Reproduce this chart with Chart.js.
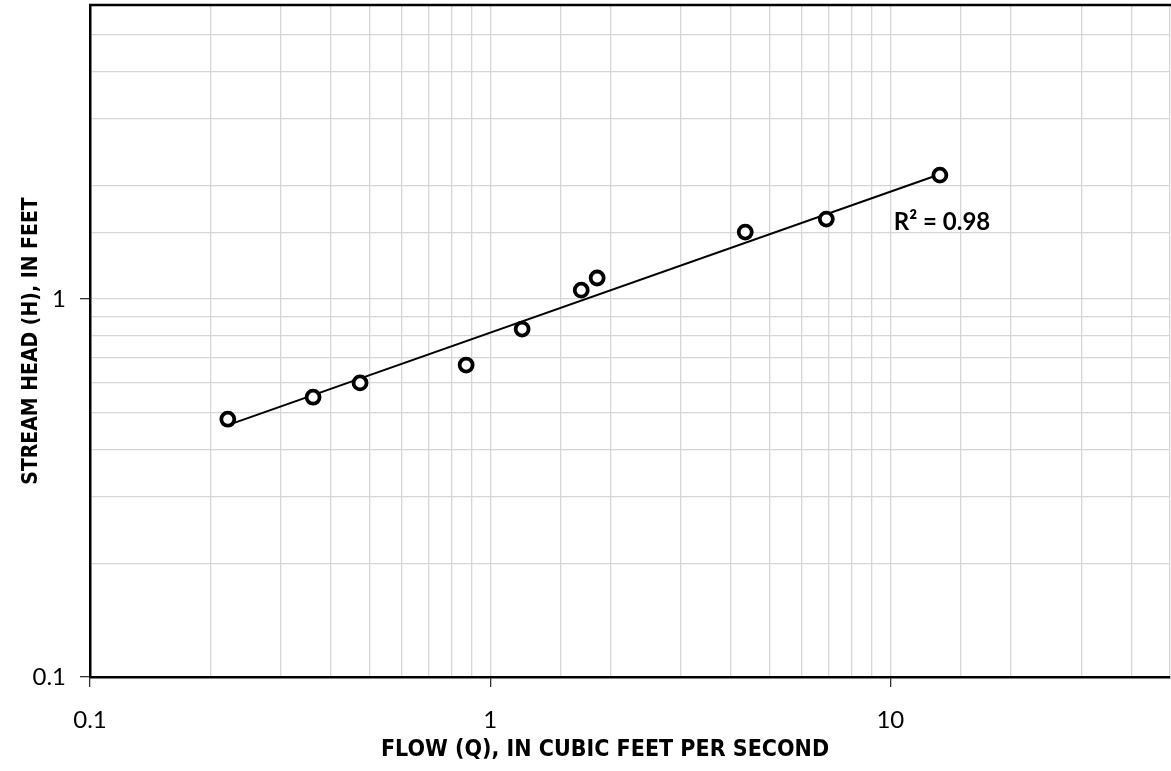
<!DOCTYPE html>
<html>
<head>
<meta charset="utf-8">
<style>
  html, body { margin: 0; padding: 0; background: #fff; }
  #wrap { width: 1171px; height: 771px; }
</style>
<script src="https://cdn.jsdelivr.net/npm/chart.js@4/dist/chart.umd.min.js"></script>
</head>
<body>
<div id="wrap"><canvas id="chart" width="1171" height="771"></canvas></div>
<script>
// measured flows (cfs) and stream head (ft)
const flow = [0.221, 0.361, 0.473, 0.871, 1.202, 1.689, 1.851, 4.34, 6.92, 13.3];
const head = [0.481, 0.550, 0.600, 0.669, 0.833, 1.056, 1.137, 1.504, 1.628, 2.128];

// power trendline ends
const trendFlow = [0.221, 13.3];
const trendHead = [0.464, 2.14];

const xTitle = "FLOW (Q), IN CUBIC FEET PER SECOND";
const yTitle = "STREAM HEAD (H), IN FEET";
const r2Label = "R² = 0.98";

const narrow = "'Liberation Sans Narrow', 'DejaVu Sans Condensed', sans-serif";
const tickFont = "Lato, 'Open Sans', sans-serif";

const isPow10 = v => Math.abs(Math.log10(v) - Math.round(Math.log10(v))) < 1e-9;

// drop the label padding Chart.js reserves at the axis ends
const fixPad = s => { s.paddingTop = 0; s.paddingBottom = 0; s.paddingLeft = 0; s.paddingRight = 0; };

const extras = {
    id: "extras",
    afterDraw(chart) {
        const { ctx, chartArea, scales } = chart;
        ctx.save();
        // top frame line
        ctx.strokeStyle = "#000";
        ctx.lineWidth = 2.5;
        ctx.beginPath();
        ctx.moveTo(chartArea.left - 1, chartArea.top);
        ctx.lineTo(chartArea.right + 2, chartArea.top);
        ctx.stroke();

        // x axis title
        ctx.fillStyle = "#000";
        ctx.font = "bold 23px " + narrow;
        ctx.textAlign = "center";
        ctx.textBaseline = "middle";
        ctx.fillText(xTitle, 605, 750);

        // R² label
        ctx.font = "bold 24px Lato, 'Open Sans', sans-serif";
        ctx.textAlign = "left";
        ctx.fillText(r2Label, scales.x.getPixelForValue(10.2), scales.y.getPixelForValue(1.6));
        ctx.restore();
    }
};

new Chart(document.getElementById("chart").getContext("2d"), {
    type: "scatter",
    data: {
        datasets: [{
            label: "trend",
            data: trendFlow.map((x, i) => ({ x, y: trendHead[i] })),
            showLine: true,
            borderColor: "#000",
            borderWidth: 2,
            pointRadius: 0,
            order: 2
        }, {
            label: "observed",
            data: flow.map((x, i) => ({ x, y: head[i] })),
            pointRadius: 6.5,
            pointBorderWidth: 3.8,
            pointBorderColor: "#000",
            pointBackgroundColor: "#fff",
            order: 1
        }]
    },
    options: {
        responsive: false,
        animation: false,
        layout: { autoPadding: false, padding: { top: 5, right: 1, left: 0, bottom: 0 } },
        plugins: { legend: { display: false }, tooltip: { enabled: false } },
        scales: {
            x: {
                type: "logarithmic",
                min: 0.1,
                max: 50,
                afterFit: s => { s.height = 94; fixPad(s); },
                border: { color: "#000", width: 2.5 },
                grid: {
                    color: "#d6d6d6",
                    lineWidth: 1.3,
                    tickLength: 10,
                    tickColor: c => (c.tick && isPow10(c.tick.value)) ? "#333" : "rgba(0,0,0,0)"
                },
                ticks: {
                    autoSkip: false,
                    maxRotation: 0,
                    padding: 19,
                    color: "#000",
                    font: { family: tickFont, size: 24 },
                    callback: v => isPow10(v) ? String(Number(v.toPrecision(3))) : ""
                }
            },
            y: {
                type: "logarithmic",
                min: 0.1,
                max: 6,
                afterFit: s => { s.width = 90; fixPad(s); },
                border: { color: "#000", width: 2.5 },
                grid: {
                    color: "#d6d6d6",
                    lineWidth: 1.3,
                    tickLength: 10,
                    tickColor: c => (c.tick && isPow10(c.tick.value)) ? "#333" : "rgba(0,0,0,0)"
                },
                ticks: {
                    autoSkip: false,
                    padding: 14,
                    color: "#000",
                    font: { family: tickFont, size: 24 },
                    callback: v => isPow10(v) ? String(Number(v.toPrecision(3))) : ""
                },
                title: {
                    display: true,
                    text: yTitle,
                    color: "#000",
                    padding: { top: 19, bottom: 0 },
                    font: { family: narrow, size: 21, weight: "bold" }
                }
            }
        }
    },
    plugins: [extras]
});
</script>
</body>
</html>
